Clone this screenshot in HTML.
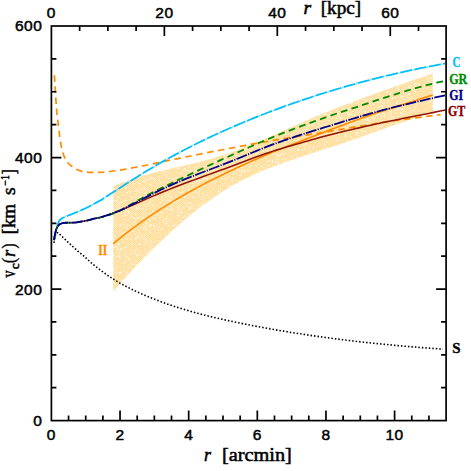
<!DOCTYPE html>
<html>
<head>
<meta charset="utf-8">
<title>Circular velocity curves</title>
<style>
html, body { margin: 0; padding: 0; background: #ffffff; }
body { width: 471px; height: 471px; overflow: hidden; font-family: "Liberation Sans", sans-serif; }
svg { display: block; }

text.n { stroke: #000; stroke-width: 0.5px; letter-spacing: 0.5px; }
text.l { stroke: #000; stroke-width: 0.5px; }
.c { fill: none; stroke-linejoin: round; }
</style>
</head>
<body>
<svg width="471" height="471" viewBox="0 0 471 471">
<defs>
<pattern id="hatch" width="1.6" height="1.6" patternUnits="userSpaceOnUse" patternTransform="rotate(-40)">
<rect width="1.6" height="1.6" fill="#ffda8e"/>
<rect width="1.6" height="0.5" fill="#fff3da"/>
</pattern>
<pattern id="speck" width="53" height="47" patternUnits="userSpaceOnUse">
<g fill="#fffaf0"><circle cx="33.1" cy="42.2" r="0.72"/><circle cx="11.9" cy="14.1" r="0.76"/><circle cx="0.3" cy="38.6" r="0.73"/><circle cx="24.8" cy="14.2" r="0.55"/><circle cx="13.5" cy="20.9" r="0.63"/><circle cx="29.3" cy="46.8" r="0.73"/><circle cx="33.0" cy="46.5" r="0.53"/><circle cx="8.5" cy="28.8" r="0.47"/><circle cx="1.9" cy="24.2" r="0.61"/><circle cx="48.6" cy="29.6" r="0.63"/><circle cx="26.3" cy="11.6" r="0.45"/><circle cx="10.2" cy="32.5" r="0.52"/><circle cx="19.6" cy="0.2" r="0.74"/><circle cx="8.2" cy="12.6" r="0.76"/><circle cx="27.0" cy="39.8" r="0.67"/><circle cx="39.3" cy="4.3" r="0.64"/><circle cx="26.9" cy="41.0" r="0.58"/><circle cx="31.7" cy="2.8" r="0.59"/><circle cx="17.1" cy="7.1" r="0.74"/><circle cx="20.1" cy="46.0" r="0.66"/><circle cx="32.1" cy="30.0" r="0.69"/><circle cx="8.0" cy="20.7" r="0.53"/><circle cx="21.3" cy="4.5" r="0.79"/><circle cx="11.4" cy="31.6" r="0.56"/><circle cx="46.3" cy="31.1" r="0.50"/><circle cx="44.8" cy="44.4" r="0.77"/><circle cx="30.2" cy="6.8" r="0.52"/><circle cx="49.2" cy="26.0" r="0.51"/><circle cx="46.9" cy="30.2" r="0.65"/><circle cx="19.9" cy="19.3" r="0.53"/><circle cx="2.0" cy="41.2" r="0.61"/><circle cx="29.0" cy="15.1" r="0.71"/><circle cx="1.3" cy="17.5" r="0.46"/><circle cx="6.5" cy="45.5" r="0.68"/><circle cx="22.7" cy="24.6" r="0.76"/><circle cx="18.2" cy="27.7" r="0.69"/><circle cx="18.8" cy="24.4" r="0.72"/><circle cx="48.2" cy="7.1" r="0.78"/><circle cx="0.3" cy="35.4" r="0.73"/><circle cx="7.2" cy="19.7" r="0.74"/><circle cx="0.8" cy="29.5" r="0.73"/><circle cx="27.2" cy="34.1" r="0.53"/><circle cx="10.5" cy="17.1" r="0.51"/><circle cx="18.3" cy="44.6" r="0.65"/><circle cx="18.0" cy="12.8" r="0.78"/><circle cx="23.6" cy="46.1" r="0.63"/><circle cx="27.6" cy="42.1" r="0.71"/><circle cx="30.8" cy="20.1" r="0.76"/><circle cx="21.8" cy="43.4" r="0.47"/><circle cx="22.8" cy="24.4" r="0.78"/><circle cx="13.3" cy="37.9" r="0.69"/><circle cx="38.0" cy="29.6" r="0.79"/><circle cx="17.6" cy="18.7" r="0.52"/><circle cx="2.7" cy="10.0" r="0.77"/><circle cx="44.5" cy="5.3" r="0.66"/><circle cx="25.4" cy="28.0" r="0.68"/><circle cx="16.3" cy="45.2" r="0.61"/><circle cx="33.3" cy="29.9" r="0.51"/><circle cx="3.3" cy="19.3" r="0.72"/><circle cx="43.2" cy="34.3" r="0.49"/><circle cx="48.4" cy="37.7" r="0.76"/><circle cx="27.7" cy="43.0" r="0.47"/><circle cx="1.6" cy="1.0" r="0.54"/><circle cx="13.2" cy="8.8" r="0.65"/><circle cx="2.1" cy="27.7" r="0.51"/><circle cx="35.9" cy="1.0" r="0.56"/><circle cx="49.7" cy="25.3" r="0.73"/><circle cx="34.9" cy="28.7" r="0.52"/><circle cx="30.4" cy="1.9" r="0.73"/><circle cx="50.9" cy="40.1" r="0.47"/><circle cx="17.9" cy="14.9" r="0.49"/><circle cx="33.2" cy="37.5" r="0.56"/><circle cx="45.7" cy="37.5" r="0.50"/><circle cx="40.6" cy="41.5" r="0.52"/><circle cx="30.4" cy="30.0" r="0.66"/><circle cx="5.1" cy="31.1" r="0.67"/><circle cx="43.7" cy="37.8" r="0.56"/><circle cx="38.3" cy="40.8" r="0.76"/><circle cx="8.6" cy="1.3" r="0.68"/><circle cx="11.4" cy="26.5" r="0.78"/><circle cx="20.1" cy="11.9" r="0.61"/><circle cx="34.8" cy="4.8" r="0.58"/><circle cx="7.1" cy="31.1" r="0.74"/><circle cx="20.0" cy="17.5" r="0.64"/><circle cx="11.4" cy="11.6" r="0.57"/><circle cx="24.2" cy="3.8" r="0.71"/><circle cx="30.7" cy="14.1" r="0.48"/><circle cx="40.4" cy="6.2" r="0.50"/><circle cx="6.9" cy="3.8" r="0.77"/><circle cx="14.3" cy="14.4" r="0.74"/><circle cx="32.9" cy="8.8" r="0.60"/><circle cx="46.8" cy="17.6" r="0.70"/><circle cx="5.1" cy="34.2" r="0.72"/><circle cx="43.8" cy="31.7" r="0.58"/><circle cx="3.4" cy="24.4" r="0.72"/><circle cx="10.1" cy="12.5" r="0.64"/><circle cx="39.7" cy="42.1" r="0.49"/><circle cx="9.8" cy="37.6" r="0.68"/><circle cx="38.2" cy="46.8" r="0.78"/><circle cx="44.7" cy="36.5" r="0.59"/><circle cx="34.0" cy="8.7" r="0.72"/><circle cx="40.2" cy="33.9" r="0.61"/><circle cx="20.0" cy="19.7" r="0.46"/><circle cx="44.7" cy="25.5" r="0.59"/><circle cx="29.0" cy="33.9" r="0.58"/><circle cx="44.0" cy="43.2" r="0.59"/><circle cx="7.3" cy="35.7" r="0.80"/><circle cx="7.8" cy="33.5" r="0.74"/><circle cx="48.8" cy="5.8" r="0.48"/><circle cx="52.4" cy="5.5" r="0.51"/><circle cx="30.5" cy="21.0" r="0.71"/><circle cx="10.1" cy="43.0" r="0.53"/><circle cx="40.8" cy="3.2" r="0.62"/><circle cx="1.7" cy="14.7" r="0.56"/><circle cx="38.1" cy="21.4" r="0.47"/><circle cx="52.8" cy="41.8" r="0.77"/><circle cx="13.1" cy="18.5" r="0.53"/><circle cx="6.6" cy="1.6" r="0.63"/><circle cx="6.5" cy="8.3" r="0.75"/><circle cx="25.7" cy="8.6" r="0.68"/><circle cx="14.1" cy="24.8" r="0.55"/><circle cx="27.4" cy="29.5" r="0.64"/><circle cx="21.0" cy="37.2" r="0.76"/><circle cx="9.5" cy="6.4" r="0.49"/><circle cx="51.9" cy="44.3" r="0.53"/><circle cx="51.4" cy="9.8" r="0.63"/><circle cx="26.4" cy="43.0" r="0.46"/><circle cx="16.7" cy="28.2" r="0.47"/><circle cx="12.5" cy="21.9" r="0.76"/><circle cx="40.3" cy="39.0" r="0.72"/><circle cx="37.5" cy="39.9" r="0.69"/><circle cx="39.0" cy="14.2" r="0.51"/><circle cx="40.1" cy="7.8" r="0.77"/><circle cx="31.6" cy="15.5" r="0.78"/><circle cx="8.2" cy="24.2" r="0.48"/><circle cx="51.2" cy="27.0" r="0.73"/><circle cx="14.9" cy="37.7" r="0.70"/><circle cx="34.1" cy="44.7" r="0.60"/><circle cx="22.0" cy="32.5" r="0.74"/><circle cx="17.8" cy="31.5" r="0.52"/><circle cx="29.2" cy="36.2" r="0.47"/><circle cx="38.6" cy="0.7" r="0.79"/><circle cx="24.8" cy="19.2" r="0.70"/><circle cx="27.7" cy="34.3" r="0.48"/><circle cx="29.8" cy="26.2" r="0.78"/><circle cx="2.1" cy="21.3" r="0.67"/><circle cx="29.2" cy="3.5" r="0.66"/><circle cx="11.8" cy="9.2" r="0.76"/><circle cx="10.5" cy="21.4" r="0.71"/><circle cx="37.5" cy="26.0" r="0.73"/><circle cx="24.7" cy="29.2" r="0.74"/><circle cx="35.9" cy="30.2" r="0.59"/><circle cx="29.6" cy="18.6" r="0.71"/><circle cx="20.2" cy="21.9" r="0.71"/><circle cx="26.7" cy="15.9" r="0.74"/><circle cx="20.2" cy="39.7" r="0.72"/><circle cx="23.7" cy="33.5" r="0.46"/><circle cx="20.7" cy="40.4" r="0.65"/><circle cx="29.6" cy="31.2" r="0.69"/><circle cx="30.9" cy="19.8" r="0.51"/><circle cx="15.5" cy="13.8" r="0.60"/><circle cx="53.0" cy="16.6" r="0.61"/><circle cx="19.7" cy="27.3" r="0.78"/><circle cx="47.1" cy="17.7" r="0.54"/><circle cx="46.9" cy="23.2" r="0.69"/><circle cx="3.9" cy="40.7" r="0.56"/><circle cx="26.2" cy="9.3" r="0.60"/><circle cx="43.9" cy="38.9" r="0.62"/><circle cx="40.7" cy="21.5" r="0.58"/><circle cx="28.9" cy="9.5" r="0.56"/><circle cx="37.4" cy="36.2" r="0.47"/><circle cx="38.8" cy="38.4" r="0.61"/><circle cx="3.3" cy="32.1" r="0.54"/><circle cx="34.1" cy="17.7" r="0.67"/><circle cx="13.7" cy="22.4" r="0.63"/><circle cx="33.4" cy="9.5" r="0.79"/><circle cx="15.3" cy="14.4" r="0.54"/><circle cx="3.6" cy="19.9" r="0.72"/><circle cx="37.6" cy="9.2" r="0.50"/><circle cx="17.0" cy="36.1" r="0.62"/><circle cx="48.9" cy="30.9" r="0.67"/><circle cx="40.7" cy="35.3" r="0.57"/><circle cx="13.6" cy="20.6" r="0.62"/><circle cx="7.5" cy="20.7" r="0.67"/><circle cx="7.2" cy="6.5" r="0.51"/><circle cx="15.0" cy="45.2" r="0.46"/><circle cx="9.7" cy="7.8" r="0.62"/><circle cx="0.8" cy="21.5" r="0.51"/><circle cx="14.3" cy="37.2" r="0.51"/><circle cx="32.7" cy="19.1" r="0.60"/><path d="M44.6,7.4A5.8,5.8 0 0 1 39.2,16.7" fill="none" stroke="#fffaf0" stroke-width="0.7" stroke-dasharray="0.8 0.6"/><path d="M29.7,3.9A5.0,5.0 0 0 1 38.7,6.3" fill="none" stroke="#fffaf0" stroke-width="0.7" stroke-dasharray="0.8 0.6"/><path d="M42.6,9.1A5.9,5.9 0 0 1 37.6,18.7" fill="none" stroke="#fffaf0" stroke-width="0.7" stroke-dasharray="0.8 0.6"/><path d="M11.4,14.0A3.1,3.1 0 0 1 10.6,19.7" fill="none" stroke="#fffaf0" stroke-width="0.7" stroke-dasharray="0.8 0.6"/><path d="M41.9,37.5A4.8,4.8 0 0 1 49.0,43.0" fill="none" stroke="#fffaf0" stroke-width="0.7" stroke-dasharray="0.8 0.6"/><path d="M29.6,22.4A5.9,5.9 0 0 1 40.0,25.7" fill="none" stroke="#fffaf0" stroke-width="0.7" stroke-dasharray="0.8 0.6"/><path d="M18.9,21.0A3.1,3.1 0 0 1 21.8,25.9" fill="none" stroke="#fffaf0" stroke-width="0.7" stroke-dasharray="0.8 0.6"/></g>
</pattern>
</defs>
<rect width="471" height="471" fill="#ffffff"/>
<!-- shaded band II -->
<path d="M113.20,186.45 L118.62,184.09 L124.03,181.93 L129.45,179.95 L134.87,178.12 L140.28,176.43 L145.70,174.87 L151.12,173.40 L156.54,172.03 L161.95,170.71 L167.37,169.45 L172.79,168.21 L178.20,166.98 L183.62,165.75 L189.04,164.49 L194.45,163.18 L199.87,161.82 L205.29,160.37 L210.71,158.82 L216.12,157.18 L221.54,155.45 L226.96,153.64 L232.37,151.74 L237.79,149.77 L243.21,147.73 L248.62,145.62 L254.04,143.44 L259.46,141.21 L264.87,138.92 L270.29,136.58 L275.71,134.20 L281.13,131.79 L286.54,129.35 L291.96,126.91 L297.38,124.48 L302.79,122.06 L308.21,119.68 L313.63,117.34 L319.04,115.06 L324.46,112.83 L329.88,110.66 L335.29,108.54 L340.71,106.45 L346.13,104.40 L351.55,102.36 L356.96,100.33 L362.38,98.32 L367.80,96.33 L373.21,94.34 L378.63,92.38 L384.05,90.42 L389.46,88.48 L394.88,86.55 L400.30,84.64 L405.72,82.74 L411.13,80.86 L416.55,78.99 L421.97,77.14 L427.38,75.30 L432.80,73.48 L432.80,111.73 L427.38,113.60 L421.97,115.49 L416.55,117.38 L411.13,119.27 L405.72,121.17 L400.30,123.07 L394.88,124.97 L389.46,126.87 L384.05,128.79 L378.63,130.72 L373.21,132.65 L367.80,134.58 L362.38,136.50 L356.96,138.41 L351.55,140.30 L346.13,142.15 L340.71,143.98 L335.29,145.78 L329.88,147.55 L324.46,149.31 L319.04,151.06 L313.63,152.80 L308.21,154.55 L302.79,156.31 L297.38,158.10 L291.96,159.92 L286.54,161.79 L281.13,163.72 L275.71,165.72 L270.29,167.81 L264.87,169.99 L259.46,172.27 L254.04,174.66 L248.62,177.17 L243.21,179.82 L237.79,182.63 L232.37,185.62 L226.96,188.81 L221.54,192.20 L216.12,195.78 L210.71,199.54 L205.29,203.47 L199.87,207.57 L194.45,211.82 L189.04,216.21 L183.62,220.74 L178.20,225.41 L172.79,230.21 L167.37,235.14 L161.95,240.21 L156.54,245.40 L151.12,250.72 L145.70,256.17 L140.28,261.74 L134.87,267.44 L129.45,273.26 L124.03,279.20 L118.62,285.27 L113.20,291.45Z" fill="url(#hatch)" stroke="none"/>
<path d="M113.20,186.45 L118.62,184.09 L124.03,181.93 L129.45,179.95 L134.87,178.12 L140.28,176.43 L145.70,174.87 L151.12,173.40 L156.54,172.03 L161.95,170.71 L167.37,169.45 L172.79,168.21 L178.20,166.98 L183.62,165.75 L189.04,164.49 L194.45,163.18 L199.87,161.82 L205.29,160.37 L210.71,158.82 L216.12,157.18 L221.54,155.45 L226.96,153.64 L232.37,151.74 L237.79,149.77 L243.21,147.73 L248.62,145.62 L254.04,143.44 L259.46,141.21 L264.87,138.92 L270.29,136.58 L275.71,134.20 L281.13,131.79 L286.54,129.35 L291.96,126.91 L297.38,124.48 L302.79,122.06 L308.21,119.68 L313.63,117.34 L319.04,115.06 L324.46,112.83 L329.88,110.66 L335.29,108.54 L340.71,106.45 L346.13,104.40 L351.55,102.36 L356.96,100.33 L362.38,98.32 L367.80,96.33 L373.21,94.34 L378.63,92.38 L384.05,90.42 L389.46,88.48 L394.88,86.55 L400.30,84.64 L405.72,82.74 L411.13,80.86 L416.55,78.99 L421.97,77.14 L427.38,75.30 L432.80,73.48 L432.80,111.73 L427.38,113.60 L421.97,115.49 L416.55,117.38 L411.13,119.27 L405.72,121.17 L400.30,123.07 L394.88,124.97 L389.46,126.87 L384.05,128.79 L378.63,130.72 L373.21,132.65 L367.80,134.58 L362.38,136.50 L356.96,138.41 L351.55,140.30 L346.13,142.15 L340.71,143.98 L335.29,145.78 L329.88,147.55 L324.46,149.31 L319.04,151.06 L313.63,152.80 L308.21,154.55 L302.79,156.31 L297.38,158.10 L291.96,159.92 L286.54,161.79 L281.13,163.72 L275.71,165.72 L270.29,167.81 L264.87,169.99 L259.46,172.27 L254.04,174.66 L248.62,177.17 L243.21,179.82 L237.79,182.63 L232.37,185.62 L226.96,188.81 L221.54,192.20 L216.12,195.78 L210.71,199.54 L205.29,203.47 L199.87,207.57 L194.45,211.82 L189.04,216.21 L183.62,220.74 L178.20,225.41 L172.79,230.21 L167.37,235.14 L161.95,240.21 L156.54,245.40 L151.12,250.72 L145.70,256.17 L140.28,261.74 L134.87,267.44 L129.45,273.26 L124.03,279.20 L118.62,285.27 L113.20,291.45Z" fill="url(#speck)" stroke="none"/>
<!-- curves -->
<path class="c" d="M54.00,242.80 L54.13,241.64 L54.29,240.50 L54.50,239.36 L54.73,238.23 L54.97,237.11 L55.24,235.96 L55.57,234.82 L56.00,233.80 L56.76,232.80 L57.78,232.70 L58.84,233.14 L59.63,233.94 L60.37,234.92 L61.16,235.76 L62.00,236.56 L62.85,237.35 L63.70,238.12 L64.55,238.90 L65.39,239.70 L66.21,240.51 L67.03,241.33 L67.86,242.12 L68.71,242.91 L69.56,243.68 L70.42,244.46 L71.28,245.22 L72.15,245.99 L73.01,246.76 L73.87,247.53 L74.73,248.31 L75.58,249.08 L76.44,249.85 L77.30,250.63 L78.16,251.40 L83.09,255.39 L87.18,259.17 L91.27,262.76 L95.36,266.15 L99.45,269.37 L103.54,272.42 L107.63,275.30 L111.72,278.04 L115.81,280.65 L119.90,283.09 L123.99,285.34 L128.08,287.47 L132.17,289.50 L136.26,291.45 L140.35,293.32 L144.44,295.12 L148.53,296.85 L152.62,298.52 L156.71,300.12 L160.80,301.67 L164.89,303.16 L168.98,304.59 L173.07,305.97 L177.16,307.30 L181.25,308.59 L185.34,309.82 L189.43,311.02 L193.52,312.17 L197.61,313.28 L201.70,314.36 L205.79,315.40 L209.88,316.41 L213.97,317.39 L218.06,318.34 L222.15,319.27 L226.24,320.17 L230.33,321.06 L234.42,321.92 L238.51,322.77 L242.60,323.60 L246.69,324.42 L250.78,325.23 L254.87,326.02 L258.96,326.79 L263.04,327.55 L267.13,328.30 L271.22,329.03 L275.31,329.75 L279.40,330.45 L283.49,331.14 L287.58,331.82 L291.67,332.49 L295.76,333.14 L299.85,333.77 L303.94,334.40 L308.03,335.01 L312.12,335.61 L316.21,336.20 L320.30,336.78 L324.39,337.34 L328.48,337.89 L332.57,338.43 L336.66,338.96 L340.75,339.48 L344.84,339.99 L348.93,340.48 L353.02,340.96 L357.11,341.44 L361.20,341.90 L365.29,342.35 L369.38,342.79 L373.47,343.22 L377.56,343.65 L381.65,344.06 L385.74,344.46 L389.83,344.85 L393.92,345.23 L398.01,345.61 L402.10,345.97 L406.19,346.33 L410.28,346.67 L414.37,347.01 L418.46,347.34 L422.55,347.66 L426.64,347.97 L430.73,348.28 L434.82,348.58 L438.91,348.87 L443.00,349.15" stroke="#000" stroke-width="1.6" stroke-dasharray="1.5 2.0"/>
<path class="c" d="M113.20,243.60 L117.25,240.31 L121.29,237.08 L125.34,233.93 L129.38,230.84 L133.43,227.82 L137.47,224.86 L141.52,221.97 L145.56,219.13 L149.61,216.35 L153.66,213.64 L157.70,210.97 L161.75,208.37 L165.79,205.81 L169.84,203.31 L173.88,200.85 L177.93,198.45 L181.97,196.09 L186.02,193.77 L190.07,191.50 L194.11,189.27 L198.16,187.08 L202.20,184.93 L206.25,182.82 L210.29,180.74 L214.34,178.70 L218.38,176.69 L222.43,174.71 L226.48,172.76 L230.52,170.83 L234.57,168.93 L238.61,167.06 L242.66,165.21 L246.70,163.38 L250.75,161.57 L254.79,159.78 L258.84,158.02 L262.89,156.28 L266.93,154.57 L270.98,152.88 L275.02,151.22 L279.07,149.58 L283.11,147.96 L287.16,146.36 L291.21,144.78 L295.25,143.21 L299.30,141.64 L303.34,140.09 L307.39,138.55 L311.43,137.00 L315.48,135.47 L319.52,133.93 L323.57,132.40 L327.62,130.86 L331.66,129.33 L335.71,127.80 L339.75,126.27 L343.80,124.75 L347.84,123.24 L351.89,121.74 L355.93,120.25 L359.98,118.77 L364.03,117.31 L368.07,115.88 L372.12,114.46 L376.16,113.08 L380.21,111.71 L384.25,110.37 L388.30,109.05 L392.34,107.76 L396.39,106.49 L400.44,105.22 L404.48,103.95 L408.53,102.68 L412.57,101.41 L416.62,100.14 L420.66,98.86 L424.71,97.57 L428.75,96.27 L432.80,94.95" stroke="#ff8c00" stroke-width="1.6"/>
<path class="c" d="M54.40,75.30 L54.58,78.61 L54.77,81.91 L54.96,85.21 L55.16,88.52 L55.36,91.82 L55.58,95.12 L55.80,98.43 L56.02,101.73 L56.23,105.04 L56.47,108.34 L56.74,111.64 L57.07,114.93 L57.51,118.21 L57.92,121.49 L58.30,124.78 L58.67,128.07 L59.05,131.36 L59.45,134.64 L59.87,137.93 L60.35,141.20 L60.94,144.46 L61.62,147.72 L62.41,150.94 L63.30,154.11 L64.47,157.22 L66.05,160.13 L68.00,162.86 L70.25,165.20 L72.90,167.26 L75.76,168.93 L78.77,170.32 L81.93,171.41 L85.16,172.11 L88.45,172.33 L91.76,172.38 L95.08,172.40 L98.39,172.36 L103.83,172.07 L107.65,171.71 L111.48,171.28 L115.30,170.78 L119.13,170.22 L122.96,169.61 L126.78,168.96 L130.61,168.26 L134.43,167.53 L138.26,166.78 L142.08,166.00 L145.91,165.21 L149.74,164.41 L153.56,163.60 L157.39,162.80 L161.21,162.00 L165.04,161.20 L168.87,160.41 L172.69,159.62 L176.52,158.83 L180.34,158.05 L184.17,157.27 L187.99,156.50 L191.82,155.73 L195.65,154.97 L199.47,154.21 L203.30,153.45 L207.12,152.70 L210.95,151.95 L214.78,151.20 L218.60,150.46 L222.43,149.72 L226.25,148.99 L230.08,148.26 L233.90,147.54 L237.73,146.81 L241.56,146.10 L245.38,145.38 L249.21,144.67 L253.03,143.96 L256.86,143.26 L260.69,142.57 L264.51,141.90 L268.34,141.24 L272.16,140.59 L275.99,139.95 L279.81,139.32 L283.64,138.70 L287.47,138.08 L291.29,137.48 L295.12,136.87 L298.94,136.27 L302.77,135.66 L306.60,135.06 L310.42,134.45 L314.25,133.84 L318.07,133.22 L321.90,132.60 L325.72,131.98 L329.55,131.34 L333.38,130.70 L337.20,130.06 L341.03,129.41 L344.85,128.76 L348.68,128.11 L352.51,127.46 L356.33,126.80 L360.16,126.16 L363.98,125.51 L367.81,124.87 L371.63,124.25 L375.46,123.63 L379.29,123.02 L383.11,122.43 L386.94,121.85 L390.76,121.28 L394.59,120.73 L398.42,120.20 L402.24,119.66 L406.07,119.14 L409.89,118.62 L413.72,118.10 L417.54,117.59 L421.37,117.08 L425.20,116.58 L429.02,116.09 L432.85,115.60 L436.67,115.12 L440.50,114.64" stroke="#ff8c00" stroke-width="1.7" stroke-dasharray="6.6 4.5"/>
<path class="c" d="M54.00,240.20 L54.27,238.51 L54.56,236.83 L54.87,235.15 L55.21,233.48 L55.57,231.81 L55.96,230.15 L56.40,228.50 L56.88,226.86 L57.39,225.21 L57.94,223.57 L58.59,222.01 L59.46,220.56 L60.61,219.28 L61.97,218.32 L63.52,217.51 L65.07,216.78 L66.63,216.11 L68.22,215.49 L69.83,214.89 L71.44,214.30 L73.03,213.69 L74.62,213.04 L76.19,212.39 L77.77,211.74 L79.34,211.07 L80.91,210.39 L82.47,209.69 L84.02,208.99 L85.57,208.27 L87.11,207.53 L88.64,206.78 L90.16,205.99 L91.67,205.19 L93.16,204.36 L94.65,203.52 L96.13,202.67 L100.92,200.15 L104.83,197.61 L108.75,195.07 L112.67,192.53 L116.58,189.99 L120.50,187.45 L124.42,184.92 L128.33,182.41 L132.25,179.90 L136.17,177.42 L140.09,174.99 L144.00,172.60 L147.92,170.23 L151.84,167.90 L155.75,165.60 L159.67,163.33 L163.59,161.10 L167.50,158.91 L171.42,156.74 L175.34,154.62 L179.25,152.52 L183.17,150.46 L187.09,148.43 L191.00,146.43 L194.92,144.46 L198.84,142.52 L202.76,140.61 L206.67,138.73 L210.59,136.87 L214.51,135.05 L218.42,133.25 L222.34,131.47 L226.26,129.73 L230.17,128.00 L234.09,126.30 L238.01,124.63 L241.92,122.97 L245.84,121.34 L249.76,119.73 L253.67,118.14 L257.59,116.57 L261.51,115.03 L265.42,113.50 L269.34,112.00 L273.26,110.51 L277.18,109.04 L281.09,107.60 L285.01,106.17 L288.93,104.77 L292.84,103.38 L296.76,102.02 L300.68,100.67 L304.59,99.34 L308.51,98.04 L312.43,96.75 L316.34,95.48 L320.26,94.23 L324.18,92.99 L328.09,91.78 L332.01,90.58 L335.93,89.41 L339.84,88.25 L343.76,87.11 L347.68,85.99 L351.60,84.88 L355.51,83.80 L359.43,82.73 L363.35,81.67 L367.26,80.64 L371.18,79.62 L375.10,78.62 L379.01,77.64 L382.93,76.67 L386.85,75.72 L390.76,74.79 L394.68,73.88 L398.60,72.98 L402.51,72.09 L406.43,71.23 L410.35,70.37 L414.27,69.54 L418.18,68.72 L422.10,67.91 L426.02,67.13 L429.93,66.35 L433.85,65.60 L437.77,64.85 L441.68,64.13 L445.60,63.41" stroke="#00bfff" stroke-width="1.8" stroke-dasharray="12.3 0.9 0.5 0.9"/>
<path class="c" d="M54.00,240.20 L54.33,238.05 L54.71,235.92 L55.15,233.80 L55.63,231.67 L56.23,229.59 L57.04,227.54 L58.13,225.69 L59.74,224.21 L61.69,223.36 L63.85,222.87 L66.00,222.75 L68.17,222.70 L70.35,222.68 L72.52,222.63 L74.68,222.53 L76.83,222.28 L78.98,221.94 L81.13,221.60 L83.27,221.24 L85.40,220.85 L87.52,220.41 L89.63,219.89 L91.71,219.29 L93.80,218.71 L98.94,217.70 L102.88,216.56 L106.82,215.32 L110.76,213.97 L114.70,212.53 L118.64,211.02 L122.58,209.43 L126.51,207.79 L130.45,206.11 L134.39,204.39 L138.33,202.65 L142.27,200.88 L146.21,199.13 L150.15,197.38 L154.09,195.65 L158.03,193.97 L161.97,192.31 L165.91,190.70 L169.85,189.11 L173.79,187.56 L177.73,186.03 L181.67,184.52 L185.60,183.03 L189.54,181.56 L193.48,180.11 L197.42,178.67 L201.36,177.23 L205.30,175.81 L209.24,174.38 L213.18,172.96 L217.12,171.53 L221.06,170.10 L225.00,168.66 L228.94,167.21 L232.88,165.74 L236.82,164.26 L240.76,162.78 L244.69,161.28 L248.63,159.79 L252.57,158.31 L256.51,156.84 L260.45,155.40 L264.39,154.01 L268.33,152.67 L272.27,151.37 L276.21,150.11 L280.15,148.89 L284.09,147.71 L288.03,146.54 L291.97,145.40 L295.91,144.27 L299.84,143.15 L303.78,142.03 L307.72,140.92 L311.66,139.81 L315.60,138.71 L319.54,137.62 L323.48,136.54 L327.42,135.49 L331.36,134.45 L335.30,133.45 L339.24,132.47 L343.18,131.52 L347.12,130.60 L351.06,129.68 L355.00,128.77 L358.93,127.87 L362.87,126.98 L366.81,126.08 L370.75,125.19 L374.69,124.31 L378.63,123.45 L382.57,122.60 L386.51,121.76 L390.45,120.95 L394.39,120.16 L398.33,119.39 L402.27,118.61 L406.21,117.83 L410.15,117.05 L414.09,116.27 L418.02,115.50 L421.96,114.72 L425.90,113.93 L429.84,113.15 L433.78,112.37 L437.72,111.58 L441.66,110.80 L445.60,110.01" stroke="#901408" stroke-width="1.55"/>
<path class="c" d="M54.00,240.20 L54.33,238.05 L54.71,235.92 L55.15,233.80 L55.63,231.67 L56.23,229.59 L57.04,227.54 L58.13,225.69 L59.74,224.21 L61.69,223.36 L63.85,222.87 L66.00,222.75 L68.17,222.70 L70.35,222.68 L72.52,222.63 L74.68,222.53 L76.83,222.28 L78.98,221.94 L81.13,221.60 L83.27,221.24 L85.40,220.85 L87.52,220.41 L89.63,219.89 L91.71,219.29 L93.80,218.71 L98.94,217.79 L102.88,216.81 L106.82,215.71 L110.76,214.46 L114.70,213.01 L118.64,211.32 L122.58,209.38 L126.51,207.16 L130.45,204.78 L134.39,202.44 L138.33,200.18 L142.27,198.00 L146.21,195.86 L150.15,193.78 L154.09,191.75 L158.03,189.75 L161.97,187.79 L165.91,185.86 L169.85,183.95 L173.79,182.06 L177.73,180.18 L181.67,178.31 L185.60,176.45 L189.54,174.59 L193.48,172.73 L197.42,170.88 L201.36,169.04 L205.30,167.20 L209.24,165.37 L213.18,163.54 L217.12,161.72 L221.06,159.91 L225.00,158.10 L228.94,156.31 L232.88,154.52 L236.82,152.74 L240.76,150.97 L244.69,149.20 L248.63,147.45 L252.57,145.71 L256.51,143.98 L260.45,142.27 L264.39,140.60 L268.33,138.96 L272.27,137.34 L276.21,135.76 L280.15,134.19 L284.09,132.65 L288.03,131.13 L291.97,129.62 L295.91,128.13 L299.84,126.66 L303.78,125.20 L307.72,123.75 L311.66,122.31 L315.60,120.89 L319.54,119.48 L323.48,118.09 L327.42,116.71 L331.36,115.36 L335.30,114.02 L339.24,112.71 L343.18,111.42 L347.12,110.13 L351.06,108.85 L355.00,107.56 L358.93,106.26 L362.87,104.95 L366.81,103.62 L370.75,102.29 L374.69,100.96 L378.63,99.63 L382.57,98.32 L386.51,97.03 L390.45,95.77 L394.39,94.53 L398.33,93.31 L402.27,92.11 L406.21,90.92 L410.15,89.76 L414.09,88.62 L418.02,87.50 L421.96,86.42 L425.90,85.37 L429.84,84.35 L433.78,83.37 L437.72,82.44 L441.66,81.55 L445.60,80.71" stroke="#008b00" stroke-width="1.8" stroke-dasharray="6.8 4.3"/>
<path class="c" d="M54.00,240.20 L54.33,238.05 L54.71,235.92 L55.15,233.80 L55.63,231.67 L56.23,229.59 L57.04,227.54 L58.13,225.69 L59.74,224.21 L61.69,223.36 L63.85,222.87 L66.00,222.75 L68.17,222.70 L70.35,222.68 L72.52,222.63 L74.68,222.53 L76.83,222.28 L78.98,221.94 L81.13,221.60 L83.27,221.24 L85.40,220.85 L87.52,220.41 L89.63,219.89 L91.71,219.29 L93.80,218.71 L98.94,217.74 L102.88,216.65 L106.82,215.44 L110.76,214.09 L114.70,212.60 L118.64,210.96 L122.58,209.20 L126.51,207.34 L130.45,205.39 L134.39,203.38 L138.33,201.32 L142.27,199.24 L146.21,197.16 L150.15,195.10 L154.09,193.08 L158.03,191.12 L161.97,189.23 L165.91,187.39 L169.85,185.61 L173.79,183.88 L177.73,182.19 L181.67,180.55 L185.60,178.94 L189.54,177.36 L193.48,175.81 L197.42,174.28 L201.36,172.76 L205.30,171.25 L209.24,169.75 L213.18,168.26 L217.12,166.75 L221.06,165.24 L225.00,163.71 L228.94,162.17 L232.88,160.60 L236.82,159.01 L240.76,157.39 L244.69,155.77 L248.63,154.14 L252.57,152.50 L256.51,150.88 L260.45,149.28 L264.39,147.71 L268.33,146.19 L272.27,144.70 L276.21,143.25 L280.15,141.84 L284.09,140.46 L288.03,139.10 L291.97,137.78 L295.91,136.47 L299.84,135.19 L303.78,133.92 L307.72,132.66 L311.66,131.41 L315.60,130.17 L319.54,128.94 L323.48,127.72 L327.42,126.49 L331.36,125.27 L335.30,124.05 L339.24,122.84 L343.18,121.63 L347.12,120.43 L351.06,119.24 L355.00,118.05 L358.93,116.88 L362.87,115.72 L366.81,114.57 L370.75,113.44 L374.69,112.34 L378.63,111.25 L382.57,110.19 L386.51,109.15 L390.45,108.14 L394.39,107.16 L398.33,106.19 L402.27,105.23 L406.21,104.28 L410.15,103.34 L414.09,102.40 L418.02,101.48 L421.96,100.55 L425.90,99.64 L429.84,98.73 L433.78,97.82 L437.72,96.92 L441.66,96.02 L445.60,95.13" stroke="#00008b" stroke-width="1.8" stroke-dasharray="11 1.3 1.2 1.3"/>
<!-- frame + ticks -->
<path d="M68.56,420.6V415.6M85.72,420.6V415.6M102.88,420.6V415.6M120.04,420.6V410.6M137.20,420.6V415.6M154.36,420.6V415.6M171.52,420.6V415.6M188.68,420.6V410.6M205.84,420.6V415.6M223.00,420.6V415.6M240.16,420.6V415.6M257.32,420.6V410.6M274.48,420.6V415.6M291.64,420.6V415.6M308.80,420.6V415.6M325.96,420.6V410.6M343.12,420.6V415.6M360.28,420.6V415.6M377.44,420.6V415.6M394.60,420.6V410.6M411.76,420.6V415.6M428.92,420.6V415.6M79.64,26.0V31.0M107.88,26.0V31.0M136.12,26.0V31.0M164.36,26.0V36.0M192.60,26.0V31.0M220.84,26.0V31.0M249.08,26.0V31.0M277.32,26.0V36.0M305.56,26.0V31.0M333.80,26.0V31.0M362.04,26.0V31.0M390.28,26.0V36.0M418.52,26.0V31.0M51.4,387.72H56.4M446.1,387.72H441.1M51.4,354.83H56.4M446.1,354.83H441.1M51.4,321.95H56.4M446.1,321.95H441.1M51.4,289.07H61.4M446.1,289.07H436.1M51.4,256.18H56.4M446.1,256.18H441.1M51.4,223.30H56.4M446.1,223.30H441.1M51.4,190.42H56.4M446.1,190.42H441.1M51.4,157.53H61.4M446.1,157.53H436.1M51.4,124.65H56.4M446.1,124.65H441.1M51.4,91.77H56.4M446.1,91.77H441.1M51.4,58.88H56.4M446.1,58.88H441.1" fill="none" stroke="#000" stroke-width="1.7"/>
<rect x="51.4" y="26.0" width="394.70" height="394.60" fill="none" stroke="#000" stroke-width="1.7"/>
<!-- text -->
<text x="51.4" y="440.3" text-anchor="middle" font-size="15.5" font-family="Liberation Sans, sans-serif" class="n">0</text>
<text x="120.0" y="440.3" text-anchor="middle" font-size="15.5" font-family="Liberation Sans, sans-serif" class="n">2</text>
<text x="188.7" y="440.3" text-anchor="middle" font-size="15.5" font-family="Liberation Sans, sans-serif" class="n">4</text>
<text x="257.3" y="440.3" text-anchor="middle" font-size="15.5" font-family="Liberation Sans, sans-serif" class="n">6</text>
<text x="326.0" y="440.3" text-anchor="middle" font-size="15.5" font-family="Liberation Sans, sans-serif" class="n">8</text>
<text x="394.6" y="440.3" text-anchor="middle" font-size="15.5" font-family="Liberation Sans, sans-serif" class="n">10</text>
<text x="51.4" y="18.2" text-anchor="middle" font-size="15.5" font-family="Liberation Sans, sans-serif" class="n">0</text>
<text x="164.4" y="18.2" text-anchor="middle" font-size="15.5" font-family="Liberation Sans, sans-serif" class="n">20</text>
<text x="277.3" y="18.2" text-anchor="middle" font-size="15.5" font-family="Liberation Sans, sans-serif" class="n">40</text>
<text x="390.3" y="18.2" text-anchor="middle" font-size="15.5" font-family="Liberation Sans, sans-serif" class="n">60</text>
<text x="42.3" y="426.0" text-anchor="end" font-size="15.5" font-family="Liberation Sans, sans-serif" class="n">0</text>
<text x="42.3" y="294.5" text-anchor="end" font-size="15.5" font-family="Liberation Sans, sans-serif" class="n">200</text>
<text x="42.3" y="162.9" text-anchor="end" font-size="15.5" font-family="Liberation Sans, sans-serif" class="n">400</text>
<text x="42.3" y="31.4" text-anchor="end" font-size="15.5" font-family="Liberation Sans, sans-serif" class="n">600</text>
<text x="204.0" y="460.6" font-size="18" font-family="Liberation Serif, serif" font-style="italic" class="l" textLength="7" lengthAdjust="spacingAndGlyphs">r</text>
<text x="221.9" y="460.6" font-size="18" font-family="Liberation Serif, serif" class="l" textLength="70.0" lengthAdjust="spacingAndGlyphs">[arcmin]</text>
<text x="303.6" y="13.6" font-size="18" font-family="Liberation Serif, serif" font-style="italic" class="l" textLength="7.6" lengthAdjust="spacingAndGlyphs">r</text>
<text x="320.7" y="13.6" font-size="18" font-family="Liberation Serif, serif" class="l" textLength="40.5" lengthAdjust="spacingAndGlyphs">[kpc]</text>
<text transform="translate(15.0,277.4) rotate(-90)" font-size="18" font-family="Liberation Serif, serif" class="l"  textLength="7.0" lengthAdjust="spacingAndGlyphs">v</text>
<text transform="translate(19.0,269.2) rotate(-90)" font-size="12.5" font-family="Liberation Serif, serif" class="l"  textLength="6.0" lengthAdjust="spacingAndGlyphs">c</text>
<text transform="translate(15.0,263.1) rotate(-90)" font-size="18" font-family="Liberation Serif, serif" class="l"  textLength="5.0" lengthAdjust="spacingAndGlyphs">(</text>
<text transform="translate(15.0,257.1) rotate(-90)" font-size="18" font-family="Liberation Serif, serif" class="l" font-style="italic" textLength="7.2" lengthAdjust="spacingAndGlyphs">r</text>
<text transform="translate(15.0,248.6) rotate(-90)" font-size="18" font-family="Liberation Serif, serif" class="l"  textLength="5.0" lengthAdjust="spacingAndGlyphs">)</text>
<text transform="translate(15.0,234.4) rotate(-90)" font-size="18" font-family="Liberation Serif, serif" class="l"  textLength="30.4" lengthAdjust="spacingAndGlyphs">[km</text>
<text transform="translate(15.0,195.0) rotate(-90)" font-size="18" font-family="Liberation Serif, serif" class="l"  textLength="7.6" lengthAdjust="spacingAndGlyphs">s</text>
<text transform="translate(9.4,185.7) rotate(-90)" font-size="11.5" font-family="Liberation Serif, serif" class="l"  textLength="10.6" lengthAdjust="spacingAndGlyphs">&#8722;1</text>
<text transform="translate(15.0,174.2) rotate(-90)" font-size="18" font-family="Liberation Serif, serif" class="l"  textLength="5.0" lengthAdjust="spacingAndGlyphs">]</text>
<text x="452.6" y="67.0" font-size="15.3" font-family="Liberation Serif, serif" font-weight="bold" fill="#00bfff" stroke="#00bfff" stroke-width="0.35" textLength="8.0" lengthAdjust="spacingAndGlyphs">C</text>
<text x="449.2" y="83.6" font-size="15.3" font-family="Liberation Serif, serif" font-weight="bold" fill="#008b00" stroke="#008b00" stroke-width="0.35" textLength="18.2" lengthAdjust="spacingAndGlyphs">GR</text>
<text x="449.2" y="99.6" font-size="15.3" font-family="Liberation Serif, serif" font-weight="bold" fill="#00008b" stroke="#00008b" stroke-width="0.35" textLength="13.9" lengthAdjust="spacingAndGlyphs">GI</text>
<text x="448.0" y="116.2" font-size="15.3" font-family="Liberation Serif, serif" font-weight="bold" fill="#8b0000" stroke="#8b0000" stroke-width="0.35" textLength="17.3" lengthAdjust="spacingAndGlyphs">GT</text>
<text x="452.2" y="352.8" font-size="15.3" font-family="Liberation Serif, serif" font-weight="bold" fill="#000" stroke="#000" stroke-width="0.35" textLength="8.3" lengthAdjust="spacingAndGlyphs">S</text>
<text x="98.2" y="254.8" font-size="15.3" font-family="Liberation Serif, serif" font-weight="bold" fill="#ff8c00" stroke="#ff8c00" stroke-width="0.35" textLength="8.9" lengthAdjust="spacingAndGlyphs">II</text>
</svg>
</body>
</html>
